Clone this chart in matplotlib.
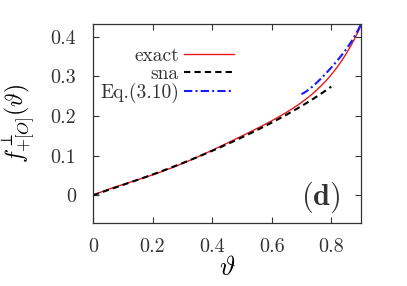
import matplotlib
matplotlib.use("Agg")
import matplotlib.pyplot as plt
import numpy as np

plt.rcParams['mathtext.fontset'] = 'cm'
plt.rcParams['font.family'] = ['cmr10', 'DejaVu Serif']
plt.rcParams['axes.formatter.use_mathtext'] = True

theta_exact = [0.0, 0.1, 0.2, 0.3, 0.4, 0.5, 0.6, 0.65, 0.7, 0.75, 0.8, 0.85, 0.875, 0.9]
f_exact = [0.0, 0.026, 0.052, 0.081, 0.113, 0.148, 0.188, 0.210, 0.234, 0.265, 0.305, 0.355, 0.388, 0.43]

theta_sna = [0.0, 0.1, 0.2, 0.3, 0.4, 0.5, 0.6, 0.7, 0.8]
f_sna = [0.0, 0.026, 0.052, 0.081, 0.112, 0.146, 0.183, 0.225, 0.274]

theta_eq = [0.7, 0.75, 0.8, 0.85, 0.9]
f_eq = [0.255, 0.283, 0.322, 0.368, 0.432]

xticks = [0, 0.2, 0.4, 0.6, 0.8]
yticks = [0, 0.1, 0.2, 0.3, 0.4]

fig = plt.figure(figsize=(4.07, 2.86), dpi=100)
ax = fig.add_axes([93/407, 1-223/286, (361-93)/407, (223-24)/286])

def smooth(x, y):
    xs = np.linspace(x[0], x[-1], 200)
    c = np.polyfit(x, y, min(5, len(x)-1))
    return xs, np.polyval(c, xs)

ax.plot(*smooth(theta_exact, f_exact), color='#e8191a', lw=1.0, label='exact')
ax.plot(*smooth(theta_sna, f_sna), color='black', lw=1.5, ls=(0, (3, 2)), label='sna')
ax.plot(*smooth(theta_eq, f_eq), color='#1a1aff', lw=1.5, ls=(0, (4, 1.5, 1, 1.5)), label='Eq.(3.10)')

ax.set_xlim(0, 0.9)
ax.set_ylim(-0.07, 0.432)
ax.set_xticks(xticks)
ax.set_yticks(yticks)
ax.set_xticklabels(['%g' % t for t in xticks])
ax.set_yticklabels(['%g' % t for t in yticks])
ax.tick_params(direction='in', top=True, right=True, length=4, labelsize=14.5, colors='#333333')
ax.tick_params(axis='y', pad=12)
ax.tick_params(axis='x', pad=11)
for s in ax.spines.values():
    s.set_color('#333333')
    s.set_linewidth(0.9)

ax.set_xlabel(r'$\vartheta$', fontsize=19, labelpad=0)
ax.set_ylabel(r'$f^{\perp}_{+[O]}(\vartheta)$', fontsize=17, labelpad=4)
ax.yaxis.set_label_coords(-0.205, 0.5)

leg = ax.legend(loc='upper left', bbox_to_anchor=(7/268, 0.885), frameon=False, markerfirst=False,
                fontsize=14, handlelength=2.6, handletextpad=0.25, labelspacing=0.0,
                borderaxespad=0.0, borderpad=0.0)
for col in leg._legend_handle_box.get_children():
    col.align = 'right'
for t in leg.get_texts():
    t.set_color('#333333')

ax.text(0.925, 0.13, r'$\mathbf{(d)}$', transform=ax.transAxes, ha='right', va='center', fontsize=22, color='#333333')

fig.savefig('out.png', dpi=100)
